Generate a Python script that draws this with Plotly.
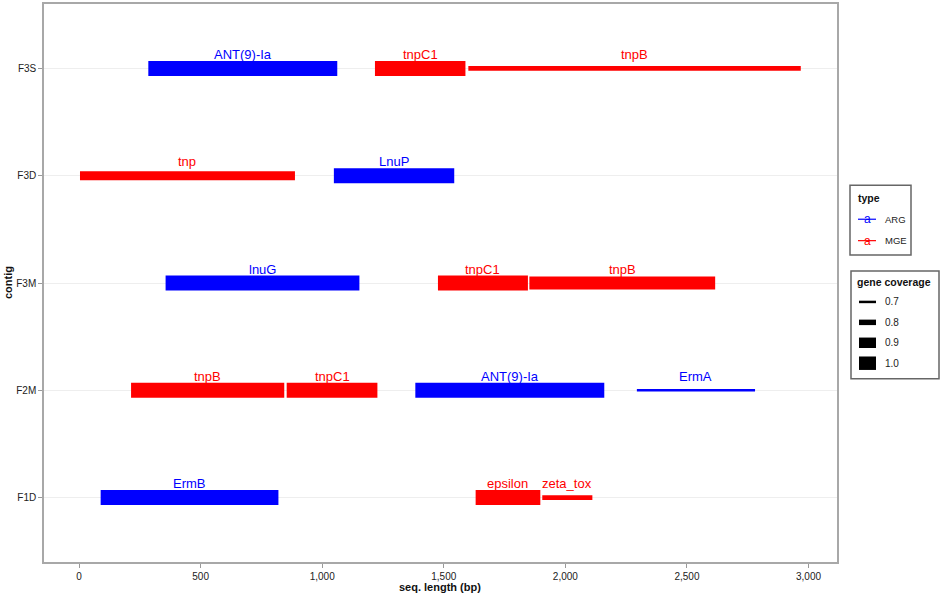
import numpy as np
import plotly.graph_objects as go

# gene segments
contig = ["F3S", "F3S", "F3S",
          "F3D", "F3D",
          "F3M", "F3M", "F3M",
          "F2M", "F2M", "F2M", "F2M",
          "F1D", "F1D", "F1D"]
gene = ["ANT(9)-Ia", "tnpC1", "tnpB",
        "tnp", "LnuP",
        "lnuG", "tnpC1", "tnpB",
        "tnpB", "tnpC1", "ANT(9)-Ia", "ErmA",
        "ErmB", "epsilon", "zeta_tox"]
gene_type = ["ARG", "MGE", "MGE",
             "MGE", "ARG",
             "ARG", "MGE", "MGE",
             "MGE", "MGE", "ARG", "ARG",
             "ARG", "MGE", "MGE"]
start = [285, 1217, 1601,
         4, 1048,
         356, 1476, 1852,
         214, 854, 1383, 2294,
         89, 1631, 1905]
end = [1062, 1589, 2968,
       888, 1543,
       1153, 1846, 2616,
       844, 1227, 2160, 2780,
       820, 1897, 2111]
coverage = [1.0, 1.0, 0.78,
            0.87, 1.0,
            1.0, 1.0, 0.955,
            1.0, 1.0, 1.0, 0.70,
            1.0, 1.0, 0.77]

contig_order = ["F1D", "F2M", "F3M", "F3D", "F3S"]
type_names = ["ARG", "MGE"]
type_colors = {"ARG": "#0000ff", "MGE": "#ff0000"}
coverage_breaks = [0.7, 0.8, 0.9, 1.0]
x_ticks = [0, 500, 1000, 1500, 2000, 2500, 3000]

FONT = "Liberation Sans, Arial, sans-serif"
W, H = 941, 596
L, R, T, B = 44, 837, 2, 562


def width_for(cov):
    # size scale: coverage -> line thickness in px
    return float(np.interp(cov, [0.7, 0.8, 0.9, 1.0], [2.5, 5.5, 10.5, 15.0]))


def px2x(px):
    return (px - L) / (R - L)


def py2y(py):
    return (B - py) / (B - T)


def note(px, py, text, size, color, xanchor="center", **kw):
    # text placed in page pixels (converted to paper coords)
    return dict(x=px2x(px), y=py2y(py), xref="paper", yref="paper",
                text=text, showarrow=False, xanchor=xanchor, yanchor="middle",
                font=dict(family=FONT, size=size, color=color), **kw)


fig = go.Figure()

for c, g, t, s, e, cov in zip(contig, gene, gene_type, start, end, coverage):
    fig.add_trace(go.Scatter(
        x=[s, e], y=[c, c], mode="lines",
        line=dict(color=type_colors[t], width=width_for(cov)),
        name=g, showlegend=False, hoverinfo="name+x",
    ))

annotations = []
for c, g, t, s, e in zip(contig, gene, gene_type, start, end):
    annotations.append(dict(
        x=(s + e) / 2, y=c, xref="x", yref="y", text=g, showarrow=False,
        xanchor="center", yanchor="middle", yshift=14,
        font=dict(family=FONT, size=13, color=type_colors[t]),
    ))

# axis titles
annotations.append(note(440, 587, "<b>seq. length (bp)</b>", 11, "#111"))
annotations.append(note(8, 282, "<b>contig</b>", 11, "#111", textangle=-90))

shapes = []

# legend: type
shapes.append(dict(type="rect", xref="paper", yref="paper",
                   x0=px2x(850), x1=px2x(911), y0=py2y(184), y1=py2y(254),
                   line=dict(color="#666", width=1.5), fillcolor="white"))
annotations.append(note(856, 197, "<b>type</b>", 10.5, "#111", xanchor="left"))
for i, tn in enumerate(type_names):
    yy = 218 + i * 21.5
    shapes.append(dict(type="line", xref="paper", yref="paper",
                       x0=px2x(858), x1=px2x(876), y0=py2y(yy), y1=py2y(yy),
                       line=dict(color=type_colors[tn], width=1.2)))
    annotations.append(note(867, yy, "a", 12, type_colors[tn]))
    annotations.append(note(883, yy, tn, 9.5, "#222", xanchor="left"))

# legend: gene coverage
shapes.append(dict(type="rect", xref="paper", yref="paper",
                   x0=px2x(851), x1=px2x(939), y0=py2y(270), y1=py2y(378),
                   line=dict(color="#666", width=1.5), fillcolor="white"))
annotations.append(note(855, 281, "<b>gene coverage</b>", 10.5, "#111", xanchor="left"))
for i, cb in enumerate(coverage_breaks):
    yy = 301 + i * 20.5
    h = min(width_for(cb), 13.5)
    shapes.append(dict(type="rect", xref="paper", yref="paper",
                       x0=px2x(859), x1=px2x(876),
                       y0=py2y(yy - h / 2), y1=py2y(yy + h / 2),
                       line=dict(width=0), fillcolor="black"))
    annotations.append(note(883, yy, f"{cb:.1f}", 10, "#222", xanchor="left"))

fig.update_layout(
    width=W, height=H,
    margin=dict(l=L, r=W - R, t=T, b=H - B),
    paper_bgcolor="white", plot_bgcolor="white",
    font=dict(family=FONT, size=10, color="#222"),
    showlegend=False,
    annotations=annotations,
    shapes=shapes,
)
fig.update_xaxes(
    range=[-144, 3117], tickvals=x_ticks, tickformat=",",
    ticks="outside", ticklen=4, tickcolor="#999", tickwidth=1,
    showline=True, linecolor="#a8a8a8", linewidth=1.5, mirror=True,
    showgrid=False, zeroline=False,
    tickfont=dict(family=FONT, size=10, color="#222"),
)
fig.update_yaxes(
    type="category", categoryorder="array", categoryarray=contig_order,
    range=[-0.6, 4.6],
    ticks="outside", ticklen=4, tickcolor="#999", tickwidth=1,
    showline=True, linecolor="#a8a8a8", linewidth=1.5, mirror=True,
    showgrid=True, gridcolor="#eeeeee", gridwidth=1, zeroline=False,
    tickfont=dict(family=FONT, size=10, color="#222"),
)

# the page body has a default 8px margin; drop it so the figure sits at 0,0
fig.write_html("out.html", config={"displayModeBar": False},
               post_script="document.body.style.margin='0';")
